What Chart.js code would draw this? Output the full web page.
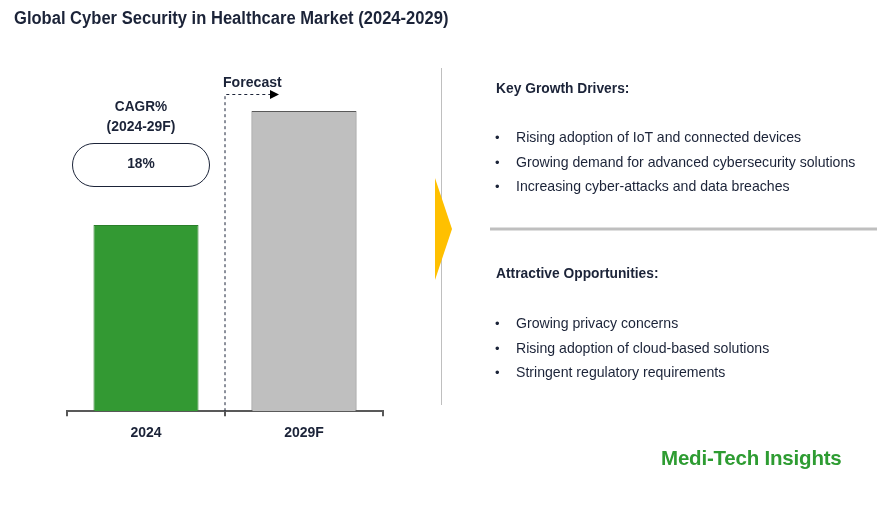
<!DOCTYPE html>
<html>
<head>
<meta charset="utf-8">
<script src="https://cdn.jsdelivr.net/npm/chart.js@4.4.1/dist/chart.umd.min.js"></script>
<style>
  html, body { margin: 0; padding: 0; background: #fff; }
  #wrap { position: relative; width: 892px; height: 528px; overflow: hidden;
    font-family: "Liberation Sans", Arial, sans-serif; color: #1b2338; }
  #wrap canvas { position: absolute; left: 0; top: 0; }
  .t { position: absolute; white-space: nowrap; transform-origin: left center; }
  .title { left: 14px; top: 8px; font-size: 18px; font-weight: bold; transform: scaleX(0.92); }
  .head { left: 496px; font-size: 15px; font-weight: bold; transform: scaleX(0.92); }
  .item { left: 516px; font-size: 15px; transform: scaleX(0.94); }
  .dot { left: 495px; font-size: 13px; }
  .logo { left: 661px; top: 446px; font-size: 20.5px; font-weight: bold; color: #2e9c32; letter-spacing: -0.2px; }
</style>
</head>
<body>
<div id="wrap">
  <canvas id="marketChart" width="892" height="528"></canvas>
  <div class="t title">Global Cyber Security in Healthcare Market (2024-2029)</div>
  <div id="panel"></div>
  <div class="t logo">Medi-Tech Insights</div>
</div>
<script>
// market size, relative units (2029F bar = 100)
const years = ['2024', '2029F'];
const marketSize = [62, 100];
const barColors = ['#339933', '#bfbfbf'];
const barBorders = ['#2a7f2a', '#595959'];
const cagrLabel = ['CAGR%', '(2024-29F)'];
const cagrValue = '18%';

const drivers = [
  'Rising adoption of IoT and connected devices',
  'Growing demand for advanced cybersecurity solutions',
  'Increasing cyber-attacks and data breaches'
];
const opportunities = [
  'Growing privacy concerns',
  'Rising adoption of cloud-based solutions',
  'Stringent regulatory requirements'
];

// right hand text panel
const panel = document.getElementById('panel');
function addText(cls, txt, top) {
  const d = document.createElement('div');
  d.className = 't ' + cls;
  d.style.top = top + 'px';
  d.textContent = txt;
  panel.appendChild(d);
}
addText('head', 'Key Growth Drivers:', 79);
drivers.forEach((s, i) => { addText('dot', '•', 130 + i * 24.5); addText('item', s, 128 + i * 24.5); });
addText('head', 'Attractive Opportunities:', 264);
opportunities.forEach((s, i) => { addText('dot', '•', 316 + i * 24.5); addText('item', s, 314 + i * 24.5); });

function narrow(ctx, txt, x, y, s) {
  ctx.save();
  ctx.translate(x, y);
  ctx.scale(s, 1);
  ctx.fillText(txt, 0, 0);
  ctx.restore();
}

const decor = {
  id: 'decor',
  afterDraw(chart) {
    const ctx = chart.ctx;
    const x = chart.scales.x;
    const area = chart.chartArea;
    const mid = (x.getPixelForValue(0) + x.getPixelForValue(1)) / 2;
    ctx.save();

    // forecast dashed line + arrow
    ctx.strokeStyle = '#1b2338';
    ctx.lineWidth = 1;
    ctx.setLineDash([3, 3]);
    ctx.beginPath();
    ctx.moveTo(mid, area.bottom);
    ctx.lineTo(mid, 94.5);
    ctx.lineTo(mid + 46, 94.5);
    ctx.stroke();
    ctx.setLineDash([]);
    ctx.fillStyle = '#000';
    ctx.beginPath();
    ctx.moveTo(mid + 45, 90);
    ctx.lineTo(mid + 54, 94.5);
    ctx.lineTo(mid + 45, 99);
    ctx.closePath();
    ctx.fill();

    ctx.fillStyle = '#1b2338';
    ctx.font = 'bold 15px "Liberation Sans", Arial';
    ctx.textAlign = 'left';
    ctx.textBaseline = 'middle';
    narrow(ctx, 'Forecast', mid - 2, 83, 0.94);

    // CAGR label and pill
    const cx = 141;
    ctx.textAlign = 'center';
    narrow(ctx, cagrLabel[0], cx, 107, 0.91);
    narrow(ctx, cagrLabel[1], cx, 127, 0.93);
    const px = 72.5, py = 143.5, pw = 137, ph = 43, r = 21.5;
    ctx.beginPath();
    ctx.moveTo(px + r, py);
    ctx.lineTo(px + pw - r, py);
    ctx.arc(px + pw - r, py + r, r, -Math.PI / 2, Math.PI / 2);
    ctx.lineTo(px + r, py + ph);
    ctx.arc(px + r, py + r, r, Math.PI / 2, Math.PI * 1.5);
    ctx.closePath();
    ctx.fillStyle = '#fff';
    ctx.fill();
    ctx.strokeStyle = '#1b2338';
    ctx.stroke();
    ctx.fillStyle = '#1b2338';
    narrow(ctx, cagrValue, cx, 164, 0.92);

    // divider and yellow arrow
    ctx.strokeStyle = '#bfbfbf';
    ctx.lineWidth = 1;
    ctx.beginPath();
    ctx.moveTo(441.5, 68);
    ctx.lineTo(441.5, 405);
    ctx.stroke();
    ctx.fillStyle = '#ffc000';
    ctx.beginPath();
    ctx.moveTo(435, 178);
    ctx.lineTo(452, 229);
    ctx.lineTo(435, 280);
    ctx.closePath();
    ctx.fill();

    ctx.strokeStyle = '#bfbfbf';
    ctx.lineWidth = 3;
    ctx.beginPath();
    ctx.moveTo(490, 229);
    ctx.lineTo(877, 229);
    ctx.stroke();
    ctx.restore();
  }
};

new Chart(document.getElementById('marketChart').getContext('2d'), {
  type: 'bar',
  data: {
    labels: years,
    datasets: [{
      data: marketSize,
      backgroundColor: barColors,
      borderColor: barBorders,
      borderWidth: 1,
      barPercentage: 0.665,
      categoryPercentage: 1
    }]
  },
  options: {
    responsive: false,
    animation: false,
    layout: { padding: { left: 67, right: 509, top: 60, bottom: 77 } },
    plugins: { legend: { display: false }, tooltip: { enabled: false } },
    scales: {
      y: { display: false, min: 0, max: 117 },
      x: {
        border: { display: true, color: '#595959', width: 2 },
        grid: { display: true, offset: true, drawOnChartArea: false, drawTicks: true, tickLength: 5, color: '#595959', lineWidth: 2 },
        ticks: { color: '#1b2338', padding: 9, font: { family: '"Liberation Sans", Arial', size: 14, weight: 'bold' } }
      }
    }
  },
  plugins: [decor]
});
</script>
</body>
</html>
